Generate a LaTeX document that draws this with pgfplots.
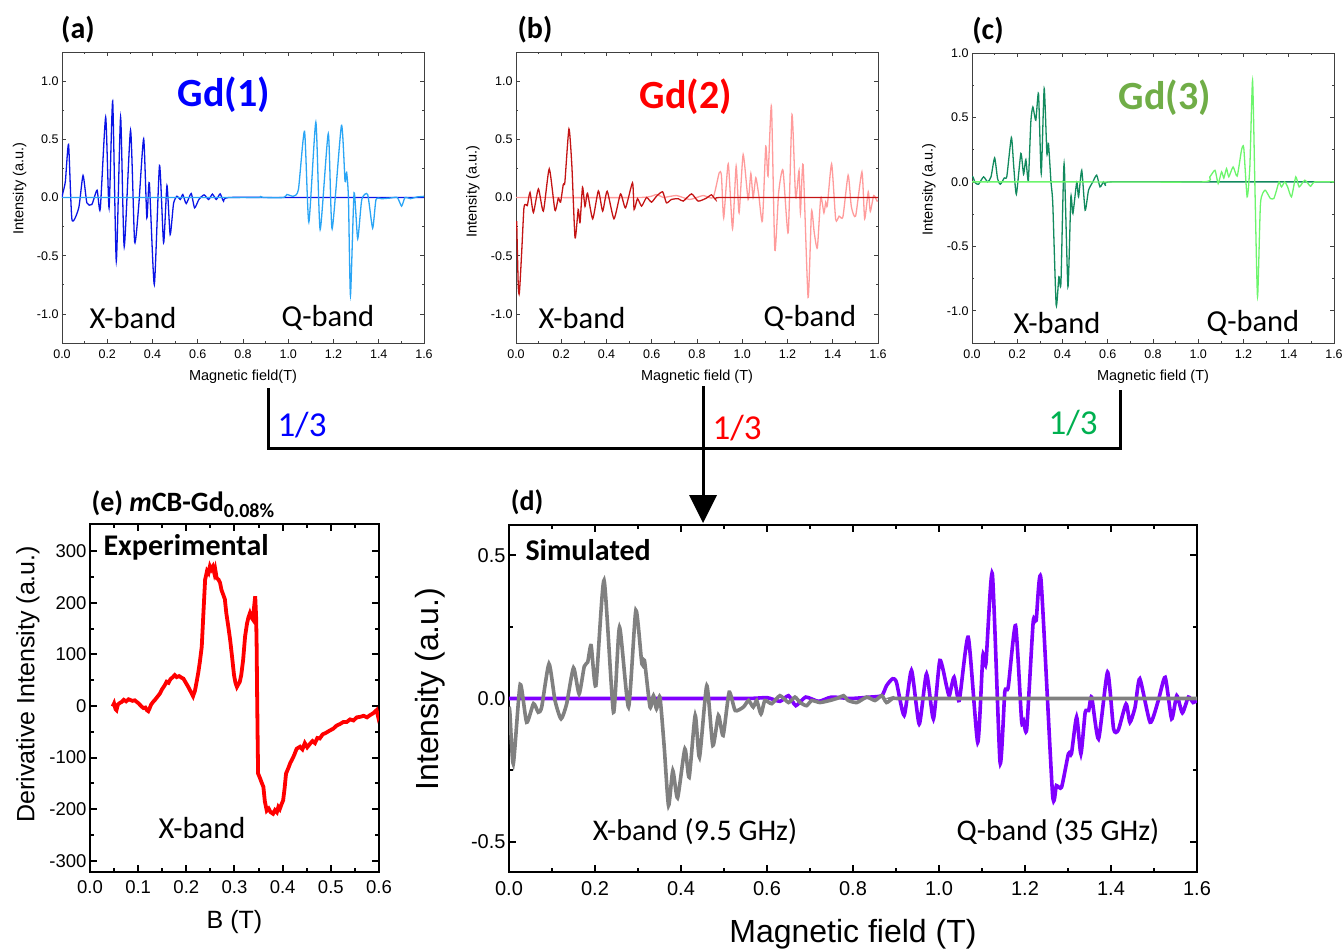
\documentclass[border=0pt]{standalone}
\usepackage{fontspec}
\setmainfont{Liberation Sans}
\newfontfamily\cali{Carlito}
\usepackage{pgfplots}
\pgfplotsset{compat=1.18}
\definecolor{gdadark}{HTML}{0A14E6}
\definecolor{gdalight}{HTML}{2AA5F5}
\definecolor{gdbdark}{HTML}{C41414}
\definecolor{gdblight}{HTML}{FF9B9B}
\definecolor{gdcdark}{HTML}{128A5E}
\definecolor{gdclight}{HTML}{6CF56C}
\definecolor{gdctitle}{HTML}{70AD47}
\definecolor{thirdgreen}{HTML}{00B050}
\definecolor{simgray}{HTML}{808080}
\definecolor{simpurple}{HTML}{8000FF}
\pgfplotsset{
  smallpanel/.style={
    scale only axis, width=362pt, height=291pt,
    xmin=0, xmax=1.6, ymin=-1.25, ymax=1.25,
    xtick={0,0.2,0.4,0.6,0.8,1.0,1.2,1.4,1.6},
    ytick={-1,-0.5,0,0.5,1},
    minor x tick num=1, minor y tick num=1,
    tick align=inside, major tick length=4pt, minor tick length=2pt,
    axis line style={black!75, line width=0.9pt},
    every tick/.style={black!75, line width=0.7pt},
    /pgf/number format/assume math mode=true,
    xticklabel style={font=\fontsize{12.5}{14}\selectfont, yshift=-3pt, /pgf/number format/.cd, fixed, fixed zerofill, precision=1},
    yticklabel style={font=\fontsize{12.5}{14}\selectfont, /pgf/number format/.cd, fixed, fixed zerofill, precision=1},
    label style={font=\fontsize{14.5}{17}\selectfont},
    every axis plot/.append style={line width=1.3pt, smooth, tension=0.35},
    clip=true,
  },
  bigframe/.style={
    scale only axis,
    tick align=inside, major tick length=7pt, minor tick length=4pt,
    axis line style={black, line width=2.6pt},
    every tick/.style={black, line width=2pt},
    /pgf/number format/assume math mode=true,
  },
}
\begin{document}
\begin{tikzpicture}[x=1pt,y=1pt]
\useasboundingbox (0,-950) rectangle (1342,0);

% ---------------- (a) Gd(1)
\begin{axis}[smallpanel, at={(62pt,-343pt)}, anchor=south west,
  xlabel={Magnetic field(T)}, ylabel={Intensity (a.u.)},
  xlabel style={at={(axis description cs:0.5,-0.117)}, anchor=center},
  ylabel style={at={(axis description cs:-0.117,0.53)}, anchor=center}]
\addplot[gdadark] coordinates {(0,0.0) (0.004,0.04) (0.015,0.14) (0.029,0.455) (0.044,-0.19) (0.074,-0.089) (0.093,0.189) (0.110,-0.046) (0.132,-0.06) (0.155,0.063) (0.169,-0.10) (0.193,0.69) (0.208,-0.09) (0.224,0.827) (0.240,-0.546) (0.259,0.69) (0.275,-0.423) (0.303,0.578) (0.321,-0.38) (0.339,-0.074) (0.361,0.504) (0.375,-0.175) (0.386,0.126) (0.408,-0.747) (0.431,0.275) (0.449,-0.389) (0.464,0.103) (0.478,-0.318) (0.493,-0.052) (0.508,0.011) (0.523,-0.017) (0.534,0.026) (0.549,-0.052) (0.571,0.034) (0.586,-0.089) (0.605,-0.017) (0.628,0.023) (0.648,-0.017) (0.665,0.029) (0.682,-0.017) (0.699,0.031) (0.714,-0.031) (0.736,0) (1.0,0) (1.6,0)};
\addplot[gdalight] coordinates {(0,0) (0.5,0) (0.86,0) (0.876,0.011) (0.89,0) (0.98,0) (0.994,0.026) (1.023,0.011) (1.045,0.069) (1.072,0.569) (1.091,-0.212) (1.122,0.647) (1.141,-0.275) (1.177,0.549) (1.194,-0.269) (1.235,0.618) (1.251,0.14) (1.258,0.217) (1.266,0) (1.275,-0.841) (1.291,0.04) (1.307,-0.355) (1.325,-0.017) (1.351,0.026) (1.373,-0.263) (1.388,-0.017) (1.413,-0.011) (1.45,-0.005) (1.482,0) (1.501,-0.074) (1.516,0) (1.54,-0.01) (1.57,0.005) (1.6,0.01)};
\end{axis}

% ---------------- (b) Gd(2)
\begin{axis}[smallpanel, at={(516pt,-343pt)}, anchor=south west,
  xlabel={Magnetic field (T)}, ylabel={Intensity (a.u.)},
  xlabel style={at={(axis description cs:0.5,-0.117)}, anchor=center},
  ylabel style={at={(axis description cs:-0.119,0.52)}, anchor=center}]
\addplot[gdblight] coordinates {(0,0) (0.548,0) (0.621,0.026) (0.651,0) (0.709,0.017) (0.768,-0.017) (0.827,0.017) (0.871,0) (0.898,0.212) (0.908,0.19) (0.918,-0.175) (0.938,0.289) (0.957,-0.269) (0.973,0.269) (0.986,-0.132) (1.004,0.369) (1.026,-0.017) (1.038,0.206) (1.048,0) (1.060,0.169) (1.073,0.02) (1.089,-0.203) (1.104,0.441) (1.114,0.183) (1.129,0.784) (1.144,-0.452) (1.161,0.046) (1.180,0.235) (1.203,-0.303) (1.220,0.712) (1.236,0) (1.251,0.232) (1.257,-0.13) (1.269,0.283) (1.291,-0.858) (1.306,-0.12) (1.318,-0.3) (1.332,-0.432) (1.347,0) (1.361,-0.132) (1.369,-0.04) (1.376,-0.07) (1.395,0.289) (1.413,-0.189) (1.428,-0.16) (1.445,-0.166) (1.468,0.192) (1.482,-0.077) (1.501,-0.16) (1.529,0.22) (1.541,-0.183) (1.557,0.049) (1.566,-0.12) (1.581,0.017) (1.596,-0.031) (1.6,-0.03)};
\addplot[gdbdark] coordinates {(0.003,-0.203) (0.010,-0.76) (0.015,-0.82) (0.025,-0.475) (0.035,-0.09) (0.044,-0.06) (0.05,-0.07) (0.062,0.043) (0.077,-0.129) (0.099,0.074) (0.121,-0.117) (0.147,0.246) (0.172,-0.109) (0.187,-0.006) (0.197,-0.04) (0.209,0.112) (0.216,0.132) (0.234,0.589) (0.247,0.269) (0.261,-0.346) (0.275,-0.103) (0.283,-0.217) (0.294,0.089) (0.305,-0.077) (0.316,0.037) (0.339,-0.183) (0.364,0.057) (0.383,-0.117) (0.403,0.054) (0.433,-0.183) (0.462,0.031) (0.484,-0.089) (0.515,0.126) (0.522,-0.103) (0.537,-0.01) (0.555,-0.074) (0.577,0.0) (0.599,-0.04) (0.621,0.011) (0.648,0.049) (0.665,-0.046) (0.687,-0.017) (0.717,-0.01) (0.739,-0.031) (0.776,0.031) (0.805,-0.031) (0.842,-0.005) (0.864,0.023) (0.882,-0.017) (0.9,0) (1.2,0) (1.6,0)};
\end{axis}

% ---------------- (c) Gd(3)
\begin{axis}[smallpanel, at={(972pt,-343pt)}, anchor=south west, height=290pt, ymax=1.0,
  xlabel={Magnetic field (T)}, ylabel={Intensity (a.u.)},
  xlabel style={at={(axis description cs:0.5,-0.117)}, anchor=center},
  ylabel style={at={(axis description cs:-0.119,0.53)}, anchor=center}]
\addplot[gdcdark] coordinates {(0,0.04) (0.004,0.039) (0.015,-0.008) (0.029,-0.018) (0.051,0.039) (0.069,0) (0.084,0.039) (0.1,0.186) (0.113,0.025) (0.125,-0.018) (0.143,0.031) (0.154,0.044) (0.174,0.344) (0.184,0.13) (0.196,-0.096) (0.216,0.22) (0.228,0.06) (0.238,0.173) (0.249,0.01) (0.260,0.465) (0.269,0.581) (0.282,0.478) (0.294,0.685) (0.306,0.065) (0.319,0.724) (0.331,0.22) (0.338,0.297) (0.349,0) (0.357,-0.168) (0.372,-0.956) (0.384,-0.736) (0.393,-0.788) (0.407,0.142) (0.424,-0.814) (0.437,-0.116) (0.446,-0.245) (0.463,0) (0.471,-0.116) (0.485,0.09) (0.5,-0.22) (0.515,-0.065) (0.534,0) (0.551,0.052) (0.566,-0.039) (0.581,0) (0.591,-0.03) (0.610,0) (1.0,0) (1.6,0)};
\addplot[gdclight] coordinates {(0,0) (0.5,0) (1.02,0) (1.051,0.039) (1.074,0.09) (1.088,-0.013) (1.103,0.078) (1.113,0.03) (1.125,0.103) (1.135,0.04) (1.154,0.116) (1.172,0.045) (1.191,0.245) (1.201,0.266) (1.216,-0.116) (1.228,0.116) (1.240,0.788) (1.25,0) (1.262,-0.891) (1.275,-0.168) (1.294,-0.065) (1.306,-0.09) (1.319,-0.129) (1.334,-0.129) (1.346,-0.065) (1.357,0) (1.368,-0.039) (1.382,0) (1.395,-0.039) (1.412,-0.116) (1.431,0.039) (1.446,-0.039) (1.471,0.013) (1.496,-0.034) (1.515,0) (1.6,0)};
\end{axis}

% ---------------- (e) experimental
\begin{axis}[bigframe, at={(90pt,-872pt)}, anchor=south west, width=289pt, height=348pt,
  xmin=0, xmax=0.6, ymin=-322, ymax=353,
  xtick={0,0.1,0.2,0.3,0.4,0.5,0.6}, ytick={-300,-200,-100,0,100,200,300},
  minor x tick num=1, minor y tick num=1,
  xticklabel style={font=\fontsize{18.5}{20}\selectfont, yshift=-5pt, /pgf/number format/.cd, fixed, fixed zerofill, precision=1},
  yticklabel style={font=\fontsize{18.5}{20}\selectfont},
  xlabel={B (T)}, ylabel={Derivative Intensity (a.u.)},
  label style={font=\fontsize{25}{28}\selectfont},
  xlabel style={at={(axis description cs:0.5,-0.144)}, anchor=center},
  ylabel style={at={(axis description cs:-0.215,0.54)}, anchor=center}]
\addplot[red, line width=3.8pt] coordinates {(0.047,-1) (0.050,5) (0.053,-6) (0.055,-8) (0.058,3) (0.062,6) (0.066,8) (0.070,12) (0.075,9) (0.080,13) (0.083,12) (0.088,10) (0.093,11) (0.097,8) (0.101,5) (0.104,2) (0.107,-1) (0.111,-4) (0.115,-3) (0.118,-8) (0.121,-10) (0.124,-4) (0.127,3) (0.131,8) (0.135,12) (0.140,18) (0.145,24) (0.150,33) (0.155,40) (0.159,47) (0.163,45) (0.167,52) (0.172,56) (0.176,60) (0.180,56) (0.185,58) (0.190,55) (0.194,53) (0.199,45) (0.204,37) (0.209,28) (0.214,19) (0.218,30) (0.222,50) (0.225,66) (0.228,85) (0.232,115) (0.236,190) (0.239,245) (0.243,262) (0.246,258) (0.249,271) (0.252,265) (0.255,270) (0.258,258) (0.260,265) (0.263,248) (0.267,245) (0.270,239) (0.273,225) (0.277,215) (0.280,207) (0.283,180) (0.287,155) (0.291,128) (0.295,95) (0.299,60) (0.302,45) (0.305,37) (0.308,42) (0.311,47) (0.314,60) (0.318,90) (0.322,135) (0.326,160) (0.329,172) (0.332,180) (0.335,172) (0.338,168) (0.341,195) (0.343,213) (0.345,170) (0.346,115) (0.347,20) (0.348,-60) (0.349,-131) (0.353,-140) (0.357,-150) (0.360,-157) (0.363,-185) (0.367,-203) (0.371,-199) (0.375,-206) (0.380,-209) (0.384,-202) (0.388,-206) (0.391,-196) (0.394,-200) (0.397,-192) (0.401,-183) (0.404,-160) (0.407,-131) (0.412,-120) (0.416,-110) (0.419,-105) (0.424,-95) (0.429,-83) (0.436,-79) (0.441,-84) (0.446,-72) (0.451,-80) (0.457,-73) (0.462,-68) (0.467,-72) (0.472,-62) (0.477,-63) (0.483,-55) (0.490,-52) (0.497,-48) (0.505,-44) (0.512,-38) (0.519,-35) (0.526,-31) (0.533,-31) (0.540,-26) (0.547,-28) (0.554,-22) (0.561,-21) (0.568,-19) (0.575,-22) (0.581,-18) (0.588,-14) (0.595,-8) (0.598,-20) (0.6,-14)};
\end{axis}

% ---------------- (d) simulated
\begin{axis}[bigframe, at={(509pt,-872pt)}, anchor=south west, width=688pt, height=347pt,
  xmin=0, xmax=1.6, ymin=-0.606, ymax=0.606,
  xtick={0,0.2,0.4,0.6,0.8,1.0,1.2,1.4,1.6}, ytick={-0.5,0,0.5},
  minor x tick num=1, minor y tick num=1,
  xticklabel style={font=\fontsize{20}{22}\selectfont, yshift=-6pt, /pgf/number format/.cd, fixed, fixed zerofill, precision=1},
  yticklabel style={font=\fontsize{20}{22}\selectfont, /pgf/number format/.cd, fixed, fixed zerofill, precision=1},
  xlabel={Magnetic field (T)}, ylabel={Intensity (a.u.)},
  label style={font=\fontsize{32}{36}\selectfont},
  xlabel style={at={(axis description cs:0.5,-0.18)}, anchor=center},
  ylabel style={at={(axis description cs:-0.115,0.527)}, anchor=center},
  every axis plot/.append style={line width=3.6pt, smooth, tension=0.35}]
\addplot[simpurple] coordinates {(0,0) (0.3,0) (0.55,0) (0.6,0.003) (0.63,-0.01) (0.65,0.01) (0.667,-0.025) (0.69,0.005) (0.72,-0.01) (0.75,0.005) (0.793,0) (0.840,0.005) (0.867,0.01) (0.878,0.045) (0.892,0.069) (0.901,0.057) (0.919,-0.059) (0.936,0.098) (0.954,-0.089) (0.971,0.086) (0.987,-0.071) (1.002,0.133) (1.018,0.040) (1.024,0.01) (1.035,0.074) (1.047,-0.007) (1.068,0.214) (1.090,-0.153) (1.102,0.150) (1.109,0.121) (1.124,0.436) (1.142,-0.223) (1.153,0.022) (1.161,0.040) (1.178,0.255) (1.192,-0.077) (1.197,-0.08) (1.204,-0.106) (1.219,0.267) (1.226,0.273) (1.237,0.418) (1.264,-0.333) (1.273,-0.304) (1.285,-0.310) (1.301,-0.193) (1.308,-0.193) (1.320,-0.065) (1.330,-0.193) (1.340,-0.048) (1.348,-0.042) (1.355,0.005) (1.371,-0.141) (1.392,0.092) (1.406,-0.106) (1.417,-0.11) (1.435,-0.019) (1.444,-0.083) (1.456,-0.030) (1.467,0.069) (1.491,-0.083) (1.510,-0.007) (1.526,0.074) (1.541,-0.071) (1.553,0.010) (1.566,-0.050) (1.580,0.005) (1.591,-0.014) (1.6,-0.007)};
\addplot[simgray] coordinates {(0,-0.03) (0.002,-0.048) (0.010,-0.228) (0.026,0.049) (0.041,-0.083) (0.057,-0.018) (0.068,-0.048) (0.076,-0.030) (0.093,0.121) (0.107,-0.007) (0.121,-0.071) (0.134,-0.019) (0.150,0.107) (0.163,0.016) (0.175,0.112) (0.183,0.127) (0.191,0.185) (0.202,0.045) (0.221,0.413) (0.243,-0.048) (0.257,0.249) (0.278,-0.030) (0.295,0.308) (0.309,0.121) (0.315,0.133) (0.328,-0.030) (0.336,0.010) (0.343,-0.036) (0.351,0.005) (0.361,-0.170) (0.371,-0.374) (0.381,-0.252) (0.392,-0.347) (0.409,-0.176) (0.419,-0.275) (0.433,-0.059) (0.443,-0.205) (0.460,0.045) (0.474,-0.164) (0.487,-0.059) (0.498,-0.129) (0.512,0.022) (0.526,-0.042) (0.545,-0.030) (0.557,-0.007) (0.568,-0.030) (0.576,-0.007) (0.586,-0.054) (0.595,-0.007) (0.611,-0.018) (0.630,0.010) (0.650,-0.014) (0.665,0.005) (0.677,-0.014) (0.692,-0.025) (0.704,-0.007) (0.723,-0.014) (0.746,-0.007) (0.766,0.002) (0.778,0.010) (0.789,-0.007) (0.809,-0.014) (0.832,0.005) (0.851,-0.007) (0.867,0.010) (0.878,-0.014) (0.894,0.002) (0.91,0) (1.2,0) (1.6,0)};
\end{axis}

% ---------------- annotations
\node[font=\cali\bfseries\fontsize{30}{34}\selectfont] at (78,-30) {(a)};
\node[font=\cali\bfseries\fontsize{30}{34}\selectfont] at (535,-30) {(b)};
\node[font=\cali\bfseries\fontsize{30}{34}\selectfont] at (988,-31) {(c)};
\node[font=\cali\bfseries\fontsize{28}{32}\selectfont] at (527,-502) {(d)};
\node[font=\cali\bfseries\fontsize{28}{32}\selectfont, anchor=west] at (88,-504) {(e) \textit{m}CB-Gd\raisebox{-6pt}{\fontsize{20}{22}\selectfont 0.08\%}};
\node[font=\cali\bfseries\fontsize{40}{44}\selectfont, text=blue] at (224,-95) {Gd(1)};
\node[font=\cali\bfseries\fontsize{40}{44}\selectfont, text=red] at (686,-97) {Gd(2)};
\node[font=\cali\bfseries\fontsize{40}{44}\selectfont, text=gdctitle] at (1165,-98) {Gd(3)};
\node[font=\cali\fontsize{30.5}{34}\selectfont] at (133,-318) {X-band};
\node[font=\cali\fontsize{30.5}{34}\selectfont] at (328,-318) {Q-band};
\node[font=\cali\fontsize{30.5}{34}\selectfont] at (582,-318) {X-band};
\node[font=\cali\fontsize{30.5}{34}\selectfont] at (810,-318) {Q-band};
\node[font=\cali\fontsize{30.5}{34}\selectfont] at (1057,-323) {X-band};
\node[font=\cali\fontsize{30.5}{34}\selectfont] at (1253,-323) {Q-band};
\node[font=\cali\bfseries\fontsize{30}{34}\selectfont, anchor=west] at (100,-547) {Experimental};
\node[font=\cali\fontsize{30.5}{34}\selectfont] at (202,-828) {X-band};
\node[font=\cali\bfseries\fontsize{30}{34}\selectfont, anchor=west] at (522,-550) {Simulated};
\node[font=\cali\fontsize{30}{34}\selectfont] at (695,-832) {X-band (9.5 GHz)};
\node[font=\cali\fontsize{30}{34}\selectfont] at (1058,-832) {Q-band (35 GHz)};
% connectors
\draw[line width=3pt] (268,-388) -- (268,-448) -- (1120,-448) -- (1120,-390);
\draw[line width=3pt] (703,-386) -- (703,-500);
\fill (689,-495) -- (717,-495) -- (703,-523) -- cycle;
\node[font=\cali\fontsize{35}{40}\selectfont, text=blue] at (302,-425) {1/3};
\node[font=\cali\fontsize{35}{40}\selectfont, text=red] at (737,-428) {1/3};
\node[font=\cali\fontsize{35}{40}\selectfont, text=thirdgreen] at (1073,-423) {1/3};
\end{tikzpicture}
\end{document}
